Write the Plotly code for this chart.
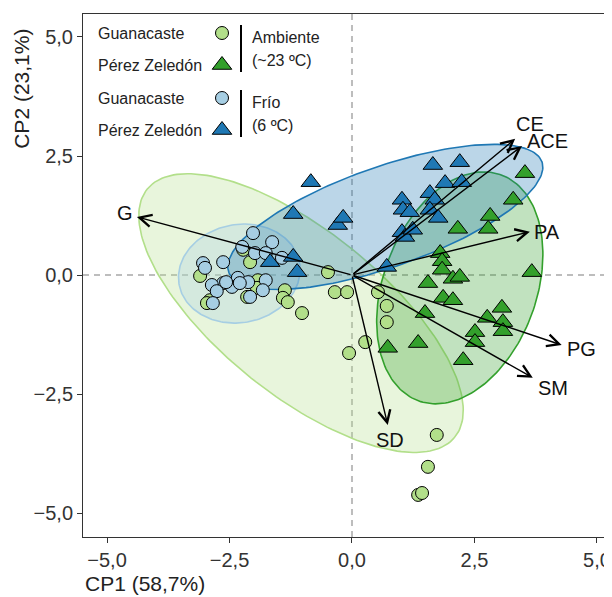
import numpy as np
import plotly.graph_objects as go

# ---------------- data (PCA scores) ----------------
# Guanacaste - Ambiente (~23 ºC)
ga_x = [-3.10, -2.90, -2.96, -2.22, -2.08, -1.92, -1.94, -1.37, -1.41, -1.31, -1.02,
        -0.49, -0.35, -0.10, 0.53, 0.71, 0.71, 0.27, -0.06, 1.73, 1.55, 1.35, 1.43, -2.14]
ga_y = [-0.02, -0.53, -0.59, 0.53, 0.27, -0.11, -0.27, -0.32, -0.48, -0.57, -0.80,
        0.06, -0.36, -0.36, -0.36, -0.65, -0.99, -1.41, -1.64, -3.36, -4.03, -4.62, -4.58, -0.46]
# Pérez Zeledón - Ambiente (~23 ºC)
pa_x = [3.53, 3.29, 2.82, 2.78, 2.16, 3.67, 1.80, 1.84, 1.84, 2.06, 2.20, 1.55,
        1.86, 2.06, 1.49, 2.76, 3.06, 3.08, 3.08, 2.51, 2.51, 0.73, 1.35, 2.27]
pa_y = [2.14, 1.58, 1.24, 0.97, 0.97, 0.06, 0.46, 0.29, 0.11, -0.08, -0.04, -0.17,
        -0.48, -0.53, -0.80, -0.90, -0.69, -0.99, -1.18, -1.20, -1.41, -1.53, -1.43, -1.79]
# Guanacaste - Frío (6 ºC)
gf_x = [-2.02, -1.63, -2.24, -1.98, -1.76, -1.43, -2.63, -3.04, -3.00, -2.33, -2.63,
        -2.86, -2.76, -2.12, -1.76, -1.82, -2.08, -2.84, -2.45, -2.57, -2.29]
gf_y = [0.88, 0.69, 0.59, 0.46, 0.46, 0.36, 0.27, 0.25, 0.15, -0.06, -0.17,
        -0.21, -0.34, -0.15, -0.11, -0.32, -0.46, -0.59, -0.25, -0.15, -0.17]
# Pérez Zeledón - Frío (6 ºC)
pf_x = [-0.84, -1.20, -0.29, -0.18, -1.67, -1.20, -1.12, 0.71, 1.02, 1.04, 1.18,
        1.02, 1.08, 1.24, 1.65, 2.20, 1.90, 2.24, 1.59, 1.69, 1.59, 1.76]
pf_y = [1.95, 1.28, 1.05, 1.20, 0.27, 0.38, 0.06, 0.17, 1.58, 1.37, 1.32,
        0.90, 0.80, 0.95, 2.31, 2.37, 1.93, 1.95, 1.72, 1.58, 1.37, 1.20]

# Ellipse parameters per group: centre, semi-axes, rotation (deg)
ell_cx = [-1.04, 2.20, -2.30, 0.68]
ell_cy = [-0.80, -0.27, 0.03, 1.22]
ell_a = [4.08, 2.52, 1.25, 3.40]
ell_b = [1.70, 1.57, 1.03, 1.05]
ell_ang = [-40, 71, 12, 20]

# Loadings (arrow tips) and their labels
load_names = ["G", "CE", "ACE", "PA", "PG", "SM", "SD"]
load_x = [-4.39, 3.33, 3.47, 3.63, 4.28, 3.69, 0.73]
load_y = [1.22, 2.86, 2.71, 0.91, -1.47, -2.16, -3.15]
lab_x = [-4.63, 3.63, 4.00, 3.98, 4.69, 4.10, 0.78]
lab_y = [1.30, 3.17, 2.82, 0.90, -1.55, -2.37, -3.47]

tick_vals = [-5, -2.5, 0, 2.5, 5]
x_title = "CP1 (58,7%)"
y_title = "CP2 (23,1%)"

# ---------------- styling ----------------
FONT = "Liberation Sans, Arial, sans-serif"
c_ga, c_pa, c_gf, c_pf = "#b2df8a", "#33a02c", "#a6cee3", "#1f78b4"
fill = ["rgba(178,223,138,0.30)", "rgba(51,160,44,0.30)",
        "rgba(166,206,227,0.30)", "rgba(31,120,180,0.30)"]
edge = [c_ga, c_pa, c_gf, c_pf]

fig = go.Figure()

t = np.linspace(0, 2 * np.pi, 200)
for i in range(4):
    th = np.deg2rad(ell_ang[i])
    ex = ell_cx[i] + ell_a[i] * np.cos(t) * np.cos(th) - ell_b[i] * np.sin(t) * np.sin(th)
    ey = ell_cy[i] + ell_a[i] * np.cos(t) * np.sin(th) + ell_b[i] * np.sin(t) * np.cos(th)
    fig.add_trace(go.Scatter(x=ex, y=ey, mode="lines", fill="toself",
                             fillcolor=fill[i], line=dict(color=edge[i], width=1.6),
                             hoverinfo="skip", showlegend=False))

mline = dict(color="black", width=1)
CS, TS = 13, 17
fig.add_trace(go.Scatter(x=ga_x, y=ga_y, mode="markers", showlegend=False,
                         marker=dict(symbol="circle", size=CS, color=c_ga, line=mline)))
fig.add_trace(go.Scatter(x=pa_x, y=pa_y, mode="markers", showlegend=False,
                         marker=dict(symbol="triangle-up", size=TS, color=c_pa, line=mline)))
fig.add_trace(go.Scatter(x=gf_x, y=gf_y, mode="markers", showlegend=False,
                         marker=dict(symbol="circle", size=CS, color=c_gf, line=mline)))
fig.add_trace(go.Scatter(x=pf_x, y=pf_y, mode="markers", showlegend=False,
                         marker=dict(symbol="triangle-up", size=TS, color=c_pf, line=mline)))

annotations = []
for n, x, y, lx, ly in zip(load_names, load_x, load_y, lab_x, lab_y):
    annotations.append(dict(x=x, y=y, ax=0, ay=0, xref="x", yref="y", axref="x", ayref="y",
                            text="", showarrow=True, arrowhead=5, arrowsize=1.7,
                            arrowwidth=1.4, arrowcolor="black", standoff=0))
    annotations.append(dict(x=lx, y=ly, xref="x", yref="y", text=n, showarrow=False,
                            font=dict(family=FONT, size=20, color="#111")))

# ---------------- custom legend (overlay axes in page pixel units) ----------------
leg_font = dict(family=FONT, size=16, color="#222")
groups = [("Ambiente", "(~23 ºC)", c_ga, c_pa, 0), ("Frío", "(6 ºC)", c_gf, c_pf, 65)]
shapes = []
for g1, g2, cc, ct, off in groups:
    annotations.append(dict(x=96, y=33 + off, xref="x2", yref="y2", text="Guanacaste",
                            showarrow=False, xanchor="left", font=leg_font))
    annotations.append(dict(x=96, y=65 + off, xref="x2", yref="y2", text="Pérez Zeledón",
                            showarrow=False, xanchor="left", font=leg_font))
    annotations.append(dict(x=250, y=37 + off, xref="x2", yref="y2", text=g1,
                            showarrow=False, xanchor="left", font=leg_font))
    annotations.append(dict(x=250, y=60 + off, xref="x2", yref="y2", text=g2,
                            showarrow=False, xanchor="left", font=leg_font))
    shapes.append(dict(type="line", xref="x2", yref="y2", x0=241, x1=241,
                       y0=25 + off, y1=72 + off, line=dict(color="black", width=2)))
    fig.add_trace(go.Scatter(x=[222], y=[33 + off], xaxis="x2", yaxis="y2", mode="markers",
                             showlegend=False, hoverinfo="skip",
                             marker=dict(symbol="circle", size=CS, color=cc, line=mline)))
    fig.add_trace(go.Scatter(x=[222], y=[65 + off], xaxis="x2", yaxis="y2", mode="markers",
                             showlegend=False, hoverinfo="skip",
                             marker=dict(symbol="triangle-up", size=TS, color=ct, line=mline)))

# zero reference lines
dash = dict(color="#bdbdbd", width=2, dash="6px,5px")
shapes.append(dict(type="line", xref="x", yref="paper", x0=0, x1=0, y0=0, y1=1, line=dash, layer="below"))
shapes.append(dict(type="line", xref="paper", yref="y", x0=0, x1=1, y0=0, y1=0, line=dash, layer="below"))

# axis titles
annotations.append(dict(x=0, y=-0.088, xref="paper", yref="paper", text=x_title,
                        showarrow=False, xanchor="left", yanchor="middle",
                        font=dict(family=FONT, size=21, color="#222")))
annotations.append(dict(x=-0.115, y=0.976, xref="paper", yref="paper", text=y_title,
                        showarrow=False, xanchor="center", yanchor="top", textangle=-90,
                        font=dict(family=FONT, size=21, color="#222")))

axis_common = dict(showgrid=False, zeroline=False, showline=True, linecolor="#333",
                   linewidth=1, ticks="outside", ticklen=5, tickcolor="#333", tickwidth=1,
                   tickvals=tick_vals, tickformat=".1f",
                   tickfont=dict(family=FONT, size=20, color="#333"))

# page has an 8px body margin, so the figure is laid out shifted by 8px;
# the panel's right edge falls just beyond the visible window, as in the reference
fig.update_layout(
    width=612, height=589,
    margin=dict(l=75, r=0, t=6, b=60),
    paper_bgcolor="white", plot_bgcolor="white",
    separators=",.",
    showlegend=False,
    xaxis=dict(range=[-5.49, 5.47], mirror=True, **axis_common),
    yaxis=dict(range=[-5.504, 5.483], mirror=False, **axis_common),
    xaxis2=dict(overlaying="x", range=[83, 620], visible=False, anchor="y2"),
    yaxis2=dict(overlaying="y", range=[537, 14], visible=False, anchor="x2"),
    annotations=annotations,
    shapes=shapes,
)

fig.write_html("out.html")
